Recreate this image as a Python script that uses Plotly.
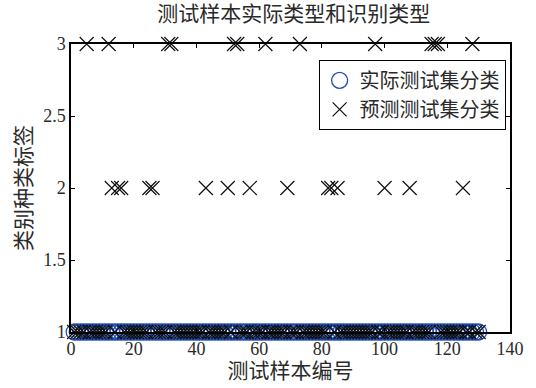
import plotly.graph_objects as go

# Test sample numbers
sample_no = list(range(1, 131))

# True class labels of the test set
actual_labels = [
    1, 1, 1, 1, 1, 1, 1, 1, 1, 1,
    1, 1, 1, 1, 1, 1, 1, 1, 1, 1,
    1, 1, 1, 1, 1, 1, 1, 1, 1, 1,
    1, 1, 1, 1, 1, 1, 1, 1, 1, 1,
    1, 1, 1, 1, 1, 1, 1, 1, 1, 1,
    1, 1, 1, 1, 1, 1, 1, 1, 1, 1,
    1, 1, 1, 1, 1, 1, 1, 1, 1, 1,
    1, 1, 1, 1, 1, 1, 1, 1, 1, 1,
    1, 1, 1, 1, 1, 1, 1, 1, 1, 1,
    1, 1, 1, 1, 1, 1, 1, 1, 1, 1,
    1, 1, 1, 1, 1, 1, 1, 1, 1, 1,
    1, 1, 1, 1, 1, 1, 1, 1, 1, 1,
    1, 1, 1, 1, 1, 1, 1, 1, 1, 1,
]

# Predicted class labels of the test set
predicted_labels = [
    1, 1, 1, 1, 3, 1, 1, 1, 1, 1,
    1, 3, 2, 1, 2, 2, 1, 1, 1, 1,
    1, 1, 1, 1, 2, 2, 1, 1, 1, 1,
    3, 3, 1, 1, 1, 1, 1, 1, 1, 1,
    1, 1, 2, 1, 1, 1, 1, 1, 1, 2,
    1, 3, 3, 1, 1, 1, 2, 1, 1, 1,
    1, 3, 1, 1, 1, 1, 1, 1, 2, 1,
    1, 1, 3, 1, 1, 1, 1, 1, 1, 1,
    1, 2, 2, 1, 2, 1, 1, 1, 1, 1,
    1, 1, 1, 1, 1, 1, 3, 1, 1, 2,
    1, 1, 1, 1, 1, 1, 1, 2, 1, 1,
    1, 1, 1, 1, 3, 3, 3, 1, 1, 1,
    1, 1, 1, 1, 2, 1, 1, 3, 1, 1,
]

x_ticks = [0, 20, 40, 60, 80, 100, 120, 140]
y_ticks = [1, 1.5, 2, 2.5, 3]

NUM_FONT = "Liberation Serif"
CJK_FONT = "Liberation Serif, Noto Sans CJK SC"
TEXT = "#2a2a2a"

fig = go.Figure()
fig.add_trace(go.Scatter(
    x=sample_no, y=actual_labels, mode="markers", name="实际测试集分类",
    marker=dict(symbol="circle-open", size=16, color="#1f4db3",
                line=dict(width=1.3, color="#1f4db3")),
    cliponaxis=False,
))
fig.add_trace(go.Scatter(
    x=sample_no, y=predicted_labels, mode="markers", name="预测测试集分类",
    marker=dict(symbol="x-thin-open", size=14, color="#111111",
                line=dict(width=1.2, color="#111111")),
    cliponaxis=False,
))

axis_common = dict(
    showgrid=False, zeroline=False, showline=True, linecolor="black",
    linewidth=1.5, mirror="ticks", ticks="inside", ticklen=4,
    tickcolor="black", tickwidth=1,
    tickfont=dict(family=NUM_FONT, size=18, color=TEXT),
)

fig.update_layout(
    width=536, height=388,
    margin=dict(l=71, r=19, t=44, b=55),
    paper_bgcolor="white", plot_bgcolor="white",
    font=dict(family=CJK_FONT, color=TEXT),
    title=dict(text="测试样本实际类型和识别类型", x=0.548, xanchor="center",
               y=0.985, yanchor="top",
               font=dict(family=CJK_FONT, size=21, color=TEXT)),
    xaxis=dict(range=[0, 140], tickvals=x_ticks,
               title=dict(text="测试样本编号", standoff=2,
                          font=dict(family=CJK_FONT, size=21, color=TEXT)),
               **axis_common),
    yaxis=dict(range=[1, 3], tickvals=y_ticks,
               ticktext=[str(v) for v in y_ticks],
               title=dict(text="类别种类标签", standoff=6,
                          font=dict(family=CJK_FONT, size=21, color=TEXT)),
               **axis_common),
    legend=dict(x=0.99, xanchor="right", y=0.945, yanchor="top",
                bgcolor="white", bordercolor="black", borderwidth=1,
                font=dict(family=CJK_FONT, size=20, color=TEXT),
                tracegroupgap=0, itemwidth=30),
    showlegend=True,
)

fig.write_html("out.html")
